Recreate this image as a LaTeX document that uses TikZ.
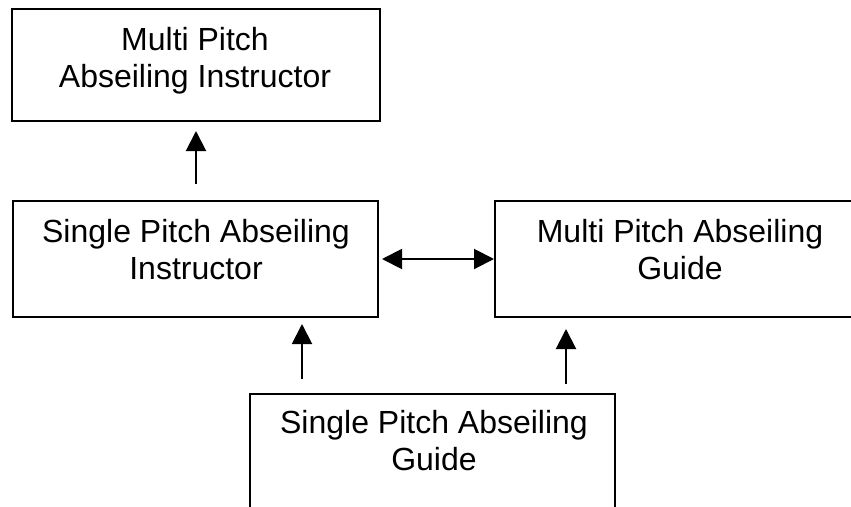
\documentclass[tikz,border=0pt]{standalone}
\usepackage{fontspec}
\setmainfont{Liberation Sans}
\usetikzlibrary{arrows.meta}
\tikzset{
  box/.style={draw, line width=2pt, rectangle, inner sep=0pt},
  lbl/.style={anchor=north, align=center, inner sep=0pt, font=\fontsize{32}{37}\selectfont},
  arr/.style={line width=2pt, -{Triangle[length=20pt,width=20pt]}},
  darr/.style={line width=2pt, {Triangle[length=20pt,width=20pt]}-{Triangle[length=20pt,width=20pt]}}
}
\begin{document}
\begin{tikzpicture}[x=1pt,y=-1pt]
\useasboundingbox (0,0) rectangle (851,506);
\clip (0,0) rectangle (851,506);
\fill[white] (0,0) rectangle (851,506);
% boxes
\node[box, minimum width=368pt, minimum height=112pt] (mpai) at (196,65) {};
\node[box, minimum width=365pt, minimum height=116pt] (spli) at (195.5,259) {};
\node[box, minimum width=370pt, minimum height=116pt] (mpag) at (680,259) {};
\node[box, minimum width=365pt, minimum height=126pt] (spgi) at (432.5,457) {};
% labels
\node[lbl] (mpaiT) at (195,27) {Multi Pitch\\Abseiling Instructor};
\node[lbl] (spliT) at (196,219) {Single Pitch Abseiling\\Instructor};
\node[lbl] (mpagT) at (680,219) {Multi Pitch Abseiling\\Guide};
\node[lbl] (spgiT) at (434,410) {Single Pitch Abseiling\\Guide};
% connectors
\draw[arr, shorten <=16pt, shorten >=9pt] (spli.north -| mpai.south) -- (mpai.south);
\draw[darr, shorten <=3pt] (spli.east) -- (mpag.west);
\draw[arr] ([xshift=53pt,yshift=14pt]spgi.north west) -- ([xshift=290pt,yshift=-6pt]spli.south west);
\draw[arr] ([xshift=317pt,yshift=9pt]spgi.north west) -- ([xshift=72pt,yshift=-11pt]mpag.south west);
\end{tikzpicture}
\end{document}
